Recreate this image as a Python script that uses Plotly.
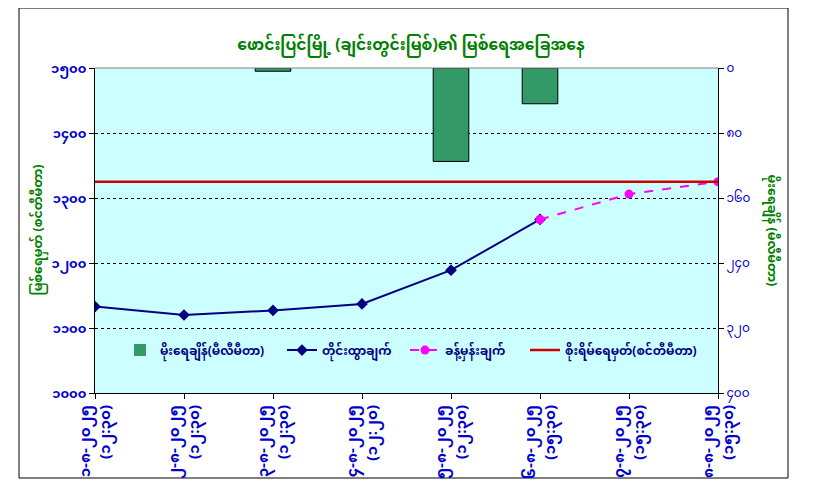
import plotly.graph_objects as go

# ---- data ----
dates = ["၁-၈-၂၀၂၅", "၂-၈-၂၀၂၅", "၃-၈-၂၀၂၅", "၄-၈-၂၀၂၅",
         "၅-၈-၂၀၂၅", "၆-၈-၂၀၂၅", "၇-၈-၂၀၂၅", "၈-၈-၂၀၂၅"]
times = ["(၁၂:၃၀)", "(၁၂:၃၀)", "(၁၂:၃၀)", "(၁၂:၂၀)",
         "(၁၂:၃၀)", "(၁၅:၃၀)", "(၁၅:၃၀)", "(၁၅:၃၀)"]
rainfall = [0, 0, 4, 0, 115, 44, 0, 0]                      # mm
observed = [1133, 1120, 1127, 1137, 1189, 1267, None, None]  # cm
forecast = [None, None, None, None, None, 1267, 1306, 1325]  # cm
danger = [1325] * 8                                           # cm

y_vals = [1000, 1100, 1200, 1300, 1400, 1500]
y_text = ["၁၀၀၀", "၁၁၀၀", "၁၂၀၀", "၁၃၀၀", "၁၄၀၀", "၁၅၀၀"]
y2_vals = [0, 80, 160, 240, 320, 400]
y2_text = ["၀", "၈၀", "၁၆၀", "၂၄၀", "၃၂၀", "၄၀၀"]

title = "ဖောင်းပြင်မြို့ (ချင်းတွင်းမြစ်)၏ မြစ်ရေအခြေအနေ"
y_title = "မြစ်ရေမှတ် (စင်တီမီတာ)"
y2_title = "မိုးရေချိန် (မီလီမီတာ)"
names = ["မိုးရေချိန်(မီလီမီတာ)", "တိုင်းထွာချက်", "ခန့်မှန်းချက်", "စိုးရိမ်ရေမှတ်(စင်တီမီတာ)"]

cats = [f"<b>{d}</b><br><b>{t}</b>" for d, t in zip(dates, times)]

FONT = "Noto Sans Myanmar, Padauk, Myanmar Text, Noto Sans, sans-serif"
BLUE = "#0000CC"
GREEN = "#008000"
NAVY = "#000080"

# page body has an 8px margin: plot area lands at x 95..718, y 68..393 on screen
W, H = 808, 485
L, T = 87, 60
PW, PH = 623, 325

fig = go.Figure()
fig.add_trace(go.Bar(x=cats, y=rainfall, yaxis="y2", name=names[0], width=0.4,
                     legend="legend",
                     marker=dict(color="#339966",
                                 line=dict(color="black", width=[1 if v else 0 for v in rainfall]))))
fig.add_trace(go.Scatter(x=cats, y=observed, name=names[1], mode="lines+markers",
                         legend="legend2",
                         line=dict(color=NAVY, width=2),
                         marker=dict(symbol="diamond", size=9, color=NAVY)))
fig.add_trace(go.Scatter(x=cats, y=forecast, name=names[2], mode="lines+markers",
                         legend="legend3",
                         line=dict(color="#FF00FF", width=2, dash="dash"),
                         marker=dict(symbol="circle", size=9, color="#FF00FF")))
fig.add_trace(go.Scatter(x=cats, y=danger, name=names[3], mode="lines",
                         legend="legend4",
                         line=dict(color="#CC0000", width=2.5)))

def leg(xpx):
    return dict(x=(xpx - 95) / PW, y=0.132, xanchor="left", yanchor="middle",
                orientation="h", bgcolor="rgba(0,0,0,0)",
                font=dict(size=12, color=NAVY, family=FONT, weight="bold"))

fig.update_layout(
    width=W, height=H,
    margin=dict(l=L, r=W - L - PW, t=T, b=H - T - PH, autoexpand=False),
    paper_bgcolor="white", plot_bgcolor="#CCFFFF",
    font=dict(family=FONT, color=BLUE, size=11),
    title=dict(text=f"<b>{title}</b>", x=(411 - 8) / W, xanchor="center", y=1 - 37 / H,
               yanchor="middle", font=dict(size=15.5, color=GREEN, family=FONT)),
    showlegend=True,
    legend=leg(120), legend2=leg(282), legend3=leg(405), legend4=leg(525),
    xaxis=dict(type="category", range=[0, 7], showgrid=False, showline=True, automargin=False,
               linecolor="black", linewidth=1, ticks="outside", ticklen=5, tickcolor="black",
               tickangle=-90, tickfont=dict(size=15, color=BLUE, family=FONT)),
    yaxis=dict(range=[1000, 1500], tickvals=y_vals, ticktext=[f"<b>{t}</b>" for t in y_text],
               automargin=False,
               showgrid=True, gridcolor="black", griddash="dot", gridwidth=1,
               showline=True, linecolor="black", linewidth=1, ticks="outside", ticklen=5,
               tickcolor="black", zeroline=False, tickfont=dict(size=13, color=BLUE)),
    yaxis2=dict(range=[400, 0], tickvals=y2_vals, ticktext=y2_text, overlaying="y", side="right",
                automargin=False,
                showgrid=False, showline=True, linecolor="black", linewidth=1, ticks="outside",
                ticklen=5, tickcolor="black", zeroline=False, tickfont=dict(size=12, color=BLUE)),
)
# left axis title reads bottom-to-top, right axis title top-to-bottom
fig.add_annotation(text=f"<b>{y_title}</b>", xref="paper", yref="paper",
                   x=(38 - 95) / PW, y=0.5, xanchor="center", yanchor="middle",
                   textangle=-90, showarrow=False, font=dict(size=12.5, color=GREEN, family=FONT))
fig.add_annotation(text=f"<b>{y2_title}</b>", xref="paper", yref="paper",
                   x=(771 - 95) / PW, y=0.5, xanchor="center", yanchor="middle",
                   textangle=90, showarrow=False, font=dict(size=12.5, color=GREEN, family=FONT))
# top border of plot area (gray) and outer chart border
fig.add_shape(type="line", xref="paper", yref="paper", x0=0, x1=1, y0=1, y1=1,
              line=dict(color="#808080", width=1))
fig.add_shape(type="rect", xref="paper", yref="paper",
              x0=(19 - 95) / PW, x1=(788 - 95) / PW, y0=(393 - 478) / PH, y1=(393 - 8) / PH,
              line=dict(color="black", width=1), layer="below")

fig.write_html("out.html")
